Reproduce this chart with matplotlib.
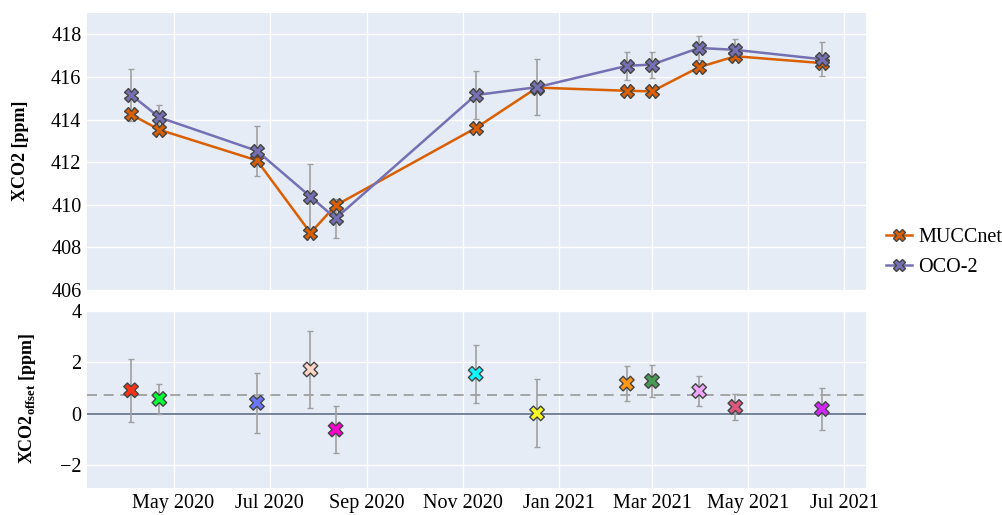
import matplotlib
matplotlib.use("Agg")
import matplotlib.pyplot as plt
import matplotlib.dates as mdates
import numpy as np
import pandas as pd

# ---------------- data ----------------
dates = ["2020-04-04", "2020-04-22", "2020-06-23", "2020-07-27", "2020-08-12",
         "2020-11-09", "2020-12-18", "2021-02-13", "2021-03-01", "2021-03-31",
         "2021-04-23", "2021-06-17"]
mucc_xco2 = [414.24, 413.52, 412.08, 408.68, 409.97, 413.60, 415.50, 415.35,
             415.32, 416.46, 416.97, 416.65]
oco2_xco2 = [415.16, 414.10, 412.53, 410.38, 409.36, 415.15, 415.52, 416.52,
             416.58, 417.36, 417.27, 416.83]
oco2_err = [1.22, 0.57, 1.18, 1.51, 0.92, 1.12, 1.30, 0.67, 0.61, 0.58, 0.49, 0.79]
offset = [0.91, 0.57, 0.42, 1.72, -0.62, 1.55, 0.01, 1.17, 1.27, 0.88, 0.26, 0.18]
offset_err = [1.23, 0.58, 1.18, 1.50, 0.92, 1.12, 1.32, 0.68, 0.62, 0.60, 0.52, 0.80]
mean_offset = 0.71
point_colors = ["#FD3216", "#00FE35", "#6A76FC", "#FED4C4", "#FE00CE", "#0DF9FF",
                "#F6F926", "#FF9616", "#479B55", "#EEA6FB", "#DC587D", "#D626FF"]
series_names = ["MUCCnet", "OCO-2"]
series_colors = ["#d95f02", "#7570b3"]

x = pd.to_datetime(dates)

# ---------------- style ----------------
plt.rcParams['font.family'] = ['Liberation Serif', 'DejaVu Serif']
plt.rcParams['mathtext.fontset'] = 'custom'
plt.rcParams['mathtext.rm'] = 'Liberation Serif:bold'
plt.rcParams['mathtext.bf'] = 'Liberation Serif:bold'

BG = "#E5ECF6"
EDGE = "#444444"
ERRC = "#a0a0a0"
FS = 14.5
W, H = 1003, 515

fig = plt.figure(figsize=(W / 100, H / 100), dpi=100)
L, R = 87 / W, 866 / W
ax1 = fig.add_axes([L, 1 - 290 / H, R - L, (290 - 13) / H])
ax2 = fig.add_axes([L, 1 - 488 / H, R - L, (488 - 311) / H], sharex=ax1)

for ax in (ax1, ax2):
    ax.set_facecolor(BG)
    for s in ax.spines.values():
        s.set_visible(False)
    ax.grid(True, color="white", linewidth=1.0)
    ax.set_axisbelow(True)
    ax.tick_params(length=0, labelsize=FS, pad=4)

# top panel
ax1.errorbar(x, oco2_xco2, yerr=oco2_err, fmt="none", ecolor=ERRC,
             elinewidth=1.2, capsize=2.5, capthick=1.0, zorder=2)
ax1.plot(x, mucc_xco2, color=series_colors[0], linewidth=1.8, marker="X",
         markersize=10, markerfacecolor=series_colors[0], markeredgecolor=EDGE,
         markeredgewidth=1.0, label=series_names[0], zorder=3)
ax1.plot(x, oco2_xco2, color=series_colors[1], linewidth=1.8, marker="X",
         markersize=10, markerfacecolor=series_colors[1], markeredgecolor=EDGE,
         markeredgewidth=1.0, label=series_names[1], zorder=3)
ax1.set_ylim(406, 419)
ax1.set_yticks(np.arange(406, 419, 2))
plt.setp(ax1.get_xticklabels(), visible=False)

leg = ax1.legend(loc="upper left", bbox_to_anchor=(1.026, 0.225), frameon=False,
                 fontsize=FS, handlelength=1.3, handletextpad=0.3,
                 labelspacing=0.55, borderaxespad=0, borderpad=0,
                 markerscale=0.8)

# bottom panel
ax2.axhline(0, color="#6b7a90", linewidth=1.3, zorder=1)
ax2.axhline(mean_offset, color="#999999", linewidth=1.2, linestyle=(0, (6, 4)), zorder=1)
ax2.errorbar(x, offset, yerr=offset_err, fmt="none", ecolor=ERRC,
             elinewidth=1.2, capsize=2.5, capthick=1.0, zorder=2)
ax2.scatter(x, offset, marker="X", s=110, c=point_colors, edgecolors=EDGE,
            linewidths=1.0, zorder=3)
ax2.set_ylim(-2.9, 4.0)
ax2.set_yticks([-2, 0, 2, 4])
ax2.set_yticklabels(["\u22122", "0", "2", "4"])

ax2.set_xlim(pd.Timestamp("2020-03-07"), pd.Timestamp("2021-07-15"))
ax2.xaxis.set_major_locator(mdates.MonthLocator(bymonth=[1, 3, 5, 7, 9, 11]))
ax2.xaxis.set_major_formatter(mdates.DateFormatter("%b %Y"))

# y-axis titles
fig.text(21 / W, 1 - 151 / H, "XCO2 [ppm]", rotation=90, ha="center", va="center",
         fontsize=13, fontweight="bold")
fig.text(28 / W, 1 - 398 / H, r"XCO2$_{\mathrm{offset}}$ [ppm]", rotation=90,
         ha="center", va="center", fontsize=13, fontweight="bold")

fig.savefig("out.png", dpi=100, facecolor="white")
